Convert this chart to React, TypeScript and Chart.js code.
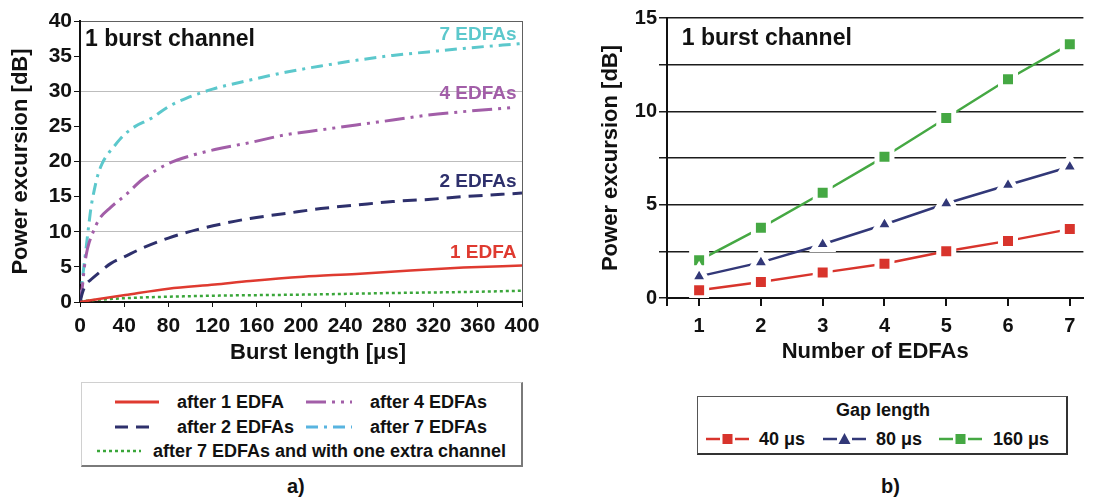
import { useEffect, useRef } from "react";
import { Chart, registerables } from "chart.js";

Chart.register(...registerables);

const SANS = '"Liberation Sans", Arial, Helvetica, sans-serif';
const INK = "#111111";

// ---------- panel a): power excursion vs. burst length ----------
const burstTicks = [0, 40, 80, 120, 160, 200, 240, 280, 320, 360, 400];

const burst1 = [0, 20, 41, 80, 122, 154, 202, 250, 299, 347, 400];
const excursion1 = [0, 0.5, 1.0, 1.9, 2.5, 3.0, 3.6, 4.0, 4.5, 4.9, 5.2];

const burst2 = [0, 2, 5, 10, 19, 28, 41, 57, 80, 106, 134, 154, 186, 218, 250, 283, 315, 347, 400];
const excursion2 = [0, 1.2, 2.4, 3.2, 4.4, 5.5, 6.5, 7.7, 9.1, 10.3, 11.3, 11.9, 12.6, 13.3, 13.8, 14.3, 14.6, 15.0, 15.5];

const burst4 = [0, 2, 4, 6, 8, 12, 17, 28, 41, 57, 80, 102, 122, 154, 186, 218, 250, 283, 315, 347, 394];
const excursion4 = [0, 2, 5, 7, 8.3, 10, 11.7, 13.5, 15.2, 17.5, 19.7, 20.9, 21.7, 22.7, 23.8, 24.5, 25.2, 25.9, 26.6, 27.1, 27.7];

const burst7 = [0, 2, 5, 8, 10, 13, 16, 20, 25, 30, 40, 50, 64, 80, 96, 120, 154, 186, 218, 250, 283, 315, 347, 400];
const excursion7 = [0, 3, 7, 11, 13.5, 16, 18, 19.7, 21, 22, 23.8, 25, 26.1, 27.8, 29, 30.3, 31.6, 32.7, 33.6, 34.4, 35.1, 35.6, 36.1, 36.8];

const burst7extra = [0, 20, 41, 80, 122, 202, 283, 347, 400];
const excursion7extra = [0.1, 0.35, 0.55, 0.75, 0.9, 1.05, 1.28, 1.42, 1.6];

// ---------- panel b): power excursion vs. number of amplifiers ----------
const edfaCount = [1, 2, 3, 4, 5, 6, 7];
const gap40 = [0.41, 0.86, 1.36, 1.84, 2.5, 3.06, 3.69];
const gap80 = [1.16, 1.91, 2.88, 3.94, 5.06, 6.05, 7.03];
const gap160 = [2.02, 3.76, 5.64, 7.57, 9.64, 11.72, 13.6];

const RED = "#df3a30";
const NAVY = "#2e306c";
const PURPLE = "#a25ea8";
const CYAN = "#5cc8cc";
const SKY = "#58b4e0";
const GREEN = "#3aa63a";

const B_RED = "#d8342c";
const B_NAVY = "#323878";
const B_GREEN = "#45a843";

const pairs = (xs: number[], ys: number[]) => xs.map((x, i) => ({ x, y: ys[i] }));

// text drawn on the canvas; positions in data units unless `pixel` is set
type Note = { text: string; x: number; y: number; color: string; font: string; align?: CanvasTextAlign; pixel?: boolean };

function notesPlugin(id: string, notes: Note[]) {
  return {
    id,
    afterDatasetsDraw(chart: any) {
      const { ctx, scales } = chart;
      ctx.save();
      for (const n of notes) {
        ctx.font = n.font;
        ctx.fillStyle = n.color;
        ctx.textAlign = n.align ?? "left";
        ctx.textBaseline = "middle";
        const px = n.pixel ? n.x : scales.x.getPixelForValue(n.x);
        const py = n.pixel ? n.y : scales.y.getPixelForValue(n.y);
        ctx.fillText(n.text, px, py);
      }
      ctx.restore();
    },
  };
}

function BurstLengthChart() {
  const ref = useRef<HTMLCanvasElement>(null);
  useEffect(() => {
    const line = { pointRadius: 0, fill: false, cubicInterpolationMode: "monotone" as const };
    const chart = new Chart(ref.current!, {
      type: "line",
      data: {
        datasets: [
          { label: "after 1 EDFA", data: pairs(burst1, excursion1), borderColor: RED, borderWidth: 2.5, ...line },
          { label: "after 2 EDFAs", data: pairs(burst2, excursion2), borderColor: NAVY, borderWidth: 3, borderDash: [14, 8], ...line },
          { label: "after 4 EDFAs", data: pairs(burst4, excursion4), borderColor: PURPLE, borderWidth: 3, borderDash: [20, 6, 3, 6, 3, 6], ...line },
          { label: "after 7 EDFAs", data: pairs(burst7, excursion7), borderColor: CYAN, borderWidth: 3, borderDash: [12, 6, 3, 6], ...line },
          { label: "after 7 EDFAs and with one extra channel", data: pairs(burst7extra, excursion7extra), borderColor: GREEN, borderWidth: 2.5, borderDash: [3, 3], ...line },
        ],
      },
      options: {
        responsive: false,
        animation: false,
        layout: { padding: { top: 21, right: 38, left: 0, bottom: 0 } },
        plugins: { legend: { display: false }, tooltip: { enabled: false } },
        scales: {
          x: {
            type: "linear",
            min: 0,
            max: 400,
            afterFit: (s: any) => { s.height = 68; },
            afterBuildTicks: (s: any) => { s.ticks = burstTicks.map((v) => ({ value: v })); },
            ticks: { autoSkip: false, maxRotation: 0, color: INK, padding: 7, font: { family: SANS, size: 21, weight: "bold" } },
            grid: {
              color: (c: any) => (c.tick && c.tick.value === 400 ? "#606060" : "transparent"),
              tickColor: INK,
              tickLength: 5,
              lineWidth: 1,
            },
            border: { color: INK, width: 2 },
            title: { display: false },
          },
          y: {
            min: 0,
            max: 40,
            afterFit: (s: any) => { s.width = 80; },
            ticks: { stepSize: 5, color: INK, padding: 2, font: { family: SANS, size: 21, weight: "bold" } },
            grid: {
              color: (c: any) => {
                const v = c.tick ? c.tick.value : -1;
                if (v === 40) return "#606060";
                return v > 0 && v % 10 === 0 ? "#bdbdbd" : "transparent";
              },
              tickColor: INK,
              tickLength: 6,
              lineWidth: 1,
            },
            border: { color: INK, width: 2 },
            title: { display: true, text: "Power excursion [dB]", color: INK, font: { family: SANS, size: 22, weight: "bold" }, padding: { top: 8, bottom: 0 } },
          },
        },
      },
      plugins: [
        notesPlugin("burstNotes", [
          { text: "1 burst channel", x: 4.5, y: 37.3, color: INK, font: `bold 23px ${SANS}` },
          { text: "7 EDFAs", x: 395, y: 38.0, color: CYAN, font: `bold 19px ${SANS}`, align: "right" },
          { text: "4 EDFAs", x: 395, y: 29.7, color: PURPLE, font: `bold 19px ${SANS}`, align: "right" },
          { text: "2 EDFAs", x: 395, y: 17.1, color: NAVY, font: `bold 19px ${SANS}`, align: "right" },
          { text: "1 EDFA", x: 395, y: 7.0, color: RED, font: `bold 19px ${SANS}`, align: "right" },
          { text: "Burst length [μs]", x: 318, y: 353, color: INK, font: `bold 22px ${SANS}`, align: "center", pixel: true },
        ]),
      ],
    } as any);
    return () => chart.destroy();
  }, []);
  return <canvas ref={ref} width={560} height={370} style={{ display: "block" }} />;
}

function EdfaCountChart() {
  const ref = useRef<HTMLCanvasElement>(null);
  useEffect(() => {
    const marker = { pointRadius: 10.6, pointBorderColor: "#ffffff", pointBorderWidth: 5, borderWidth: 2.5, fill: false };
    const xMin = 0.48;
    const chart = new Chart(ref.current!, {
      type: "line",
      data: {
        datasets: [
          { label: "40 μs", data: pairs(edfaCount, gap40), borderColor: B_RED, pointBackgroundColor: B_RED, pointStyle: "rect", ...marker },
          { label: "80 μs", data: pairs(edfaCount, gap80), borderColor: B_NAVY, pointBackgroundColor: B_NAVY, pointStyle: "triangle", ...marker },
          { label: "160 μs", data: pairs(edfaCount, gap160), borderColor: B_GREEN, pointBackgroundColor: B_GREEN, pointStyle: "rect", ...marker },
        ],
      },
      options: {
        responsive: false,
        animation: false,
        layout: { padding: { top: 18, right: 0, left: 0, bottom: 0 } },
        plugins: { legend: { display: false }, tooltip: { enabled: false } },
        scales: {
          x: {
            type: "linear",
            min: xMin,
            max: 7.22,
            afterFit: (s: any) => { s.height = 72; },
            afterBuildTicks: (s: any) => { s.ticks = [xMin, ...edfaCount].map((v) => ({ value: v })); },
            ticks: {
              autoSkip: false,
              maxRotation: 0,
              color: INK,
              padding: 8,
              font: { family: SANS, size: 20, weight: "bold" },
              callback: (v: any) => (Number.isInteger(v) ? String(v) : ""),
            },
            grid: { drawOnChartArea: false, tickLength: 8, tickColor: INK, lineWidth: 2 },
            border: { color: INK, width: 2 },
            title: { display: true, text: "Number of EDFAs", color: INK, font: { family: SANS, size: 22, weight: "bold" }, padding: { top: 0, bottom: 5 } },
          },
          y: {
            min: 0,
            max: 15,
            afterFit: (s: any) => { s.width = 107; },
            ticks: {
              stepSize: 2.5,
              color: INK,
              padding: 2,
              font: { family: SANS, size: 20, weight: "bold" },
              callback: (v: any) => (v % 5 === 0 ? String(v) : ""),
            },
            grid: { color: "#1c1c1c", lineWidth: 1.5, tickLength: 8, tickColor: "#1c1c1c" },
            border: { color: INK, width: 2 },
            title: { display: true, text: "Power excursion [dB]", color: INK, font: { family: SANS, size: 22, weight: "bold" }, padding: { top: 38, bottom: 0 } },
          },
        },
      },
      plugins: [
        notesPlugin("countNotes", [{ text: "1 burst channel", x: 0.72, y: 13.87, color: INK, font: `bold 23px ${SANS}` }]),
      ],
    } as any);
    return () => chart.destroy();
  }, []);
  return <canvas ref={ref} width={539} height={370} style={{ display: "block" }} />;
}

function LineSample({ color, dash, width = 3, w = 44 }: { color: string; dash?: string; width?: number; w?: number }) {
  return (
    <svg width={w} height={10} style={{ display: "block" }}>
      <line x1={0} y1={5} x2={w} y2={5} stroke={color} strokeWidth={width} strokeDasharray={dash} />
    </svg>
  );
}

function MarkerSample({ color, shape }: { color: string; shape: "rect" | "tri" }) {
  return (
    <svg width={43} height={16} style={{ display: "block" }}>
      <line x1={0} y1={8} x2={14} y2={8} stroke={color} strokeWidth={2.5} />
      <line x1={29} y1={8} x2={43} y2={8} stroke={color} strokeWidth={2.5} />
      {shape === "rect" ? (
        <rect x={16.5} y={3} width={10} height={10} fill={color} />
      ) : (
        <polygon points="21.5,2 27.5,13 15.5,13" fill={color} />
      )}
    </svg>
  );
}

const abs = (left: number, top: number, extra: any = {}) => ({
  position: "absolute" as const,
  left,
  top,
  transform: "translateY(-50%)",
  lineHeight: 1,
  whiteSpace: "nowrap" as const,
  ...extra,
});

export default function App() {
  const legendText = { fontFamily: SANS, fontWeight: 700, fontSize: 18, color: INK };
  const legendTextB = { fontFamily: SANS, fontWeight: 700, fontSize: 18, color: INK };
  return (
    <div style={{ position: "absolute", left: 0, top: 0, width: 1099, height: 498, background: "#ffffff", overflow: "hidden" }}>
      <div style={{ position: "absolute", left: 0, top: 0 }}>
        <BurstLengthChart />
      </div>
      <div style={{ position: "absolute", left: 560, top: 0 }}>
        <EdfaCountChart />
      </div>

      {/* legend of panel a) */}
      <div
        style={{
          position: "absolute",
          left: 81,
          top: 382,
          width: 442,
          height: 85,
          borderTop: "1px solid #d0d0d0",
          borderLeft: "1px solid #d0d0d0",
          borderRight: "2px solid #7a7a7a",
          borderBottom: "2px solid #7a7a7a",
          boxSizing: "border-box",
        }}
      />
      <div style={abs(115, 402)}><LineSample color={RED} width={3} /></div>
      <div style={abs(177, 402, legendText)}>after 1 EDFA</div>
      <div style={abs(306, 402)}><LineSample color={PURPLE} width={3} w={46} dash="20 6 3 6 3 6" /></div>
      <div style={abs(370, 402, legendText)}>after 4 EDFAs</div>
      <div style={abs(115, 427)}><LineSample color={NAVY} width={3} w={42} dash="13 8" /></div>
      <div style={abs(177, 427, legendText)}>after 2 EDFAs</div>
      <div style={abs(306, 427)}><LineSample color={SKY} width={3} w={46} dash="12 6 3 6" /></div>
      <div style={abs(370, 427, legendText)}>after 7 EDFAs</div>
      <div style={abs(97, 451)}><LineSample color={GREEN} width={2.5} dash="3 3" /></div>
      <div style={abs(153, 451, legendText)}>after 7 EDFAs and with one extra channel</div>
      <div style={abs(287, 486, { fontFamily: SANS, fontWeight: 700, fontSize: 20, color: INK })}>a)</div>

      {/* legend of panel b) */}
      <div
        style={{
          position: "absolute",
          left: 697,
          top: 396,
          width: 371,
          height: 59,
          borderTop: "1px solid #555",
          borderLeft: "1px solid #555",
          borderRight: "2px solid #333",
          borderBottom: "2px solid #333",
          boxSizing: "border-box",
        }}
      />
      <div style={abs(883, 410, { ...legendTextB, transform: "translate(-50%, -50%)" })}>Gap length</div>
      <div style={abs(706, 439)}><MarkerSample color={B_RED} shape="rect" /></div>
      <div style={abs(759, 439, legendTextB)}>40 μs</div>
      <div style={abs(823, 439)}><MarkerSample color={B_NAVY} shape="tri" /></div>
      <div style={abs(876, 439, legendTextB)}>80 μs</div>
      <div style={abs(939, 439)}><MarkerSample color={B_GREEN} shape="rect" /></div>
      <div style={abs(993, 439, legendTextB)}>160 μs</div>
      <div style={abs(881, 486, { fontFamily: SANS, fontWeight: 700, fontSize: 20, color: INK })}>b)</div>
    </div>
  );
}
